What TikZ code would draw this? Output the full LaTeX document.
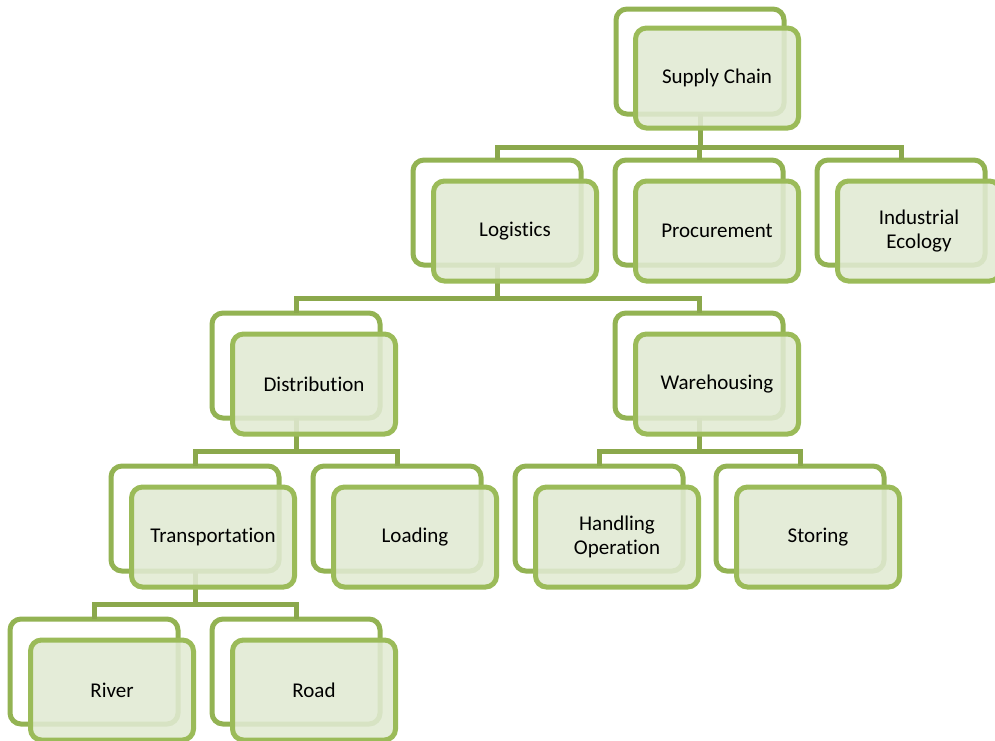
\documentclass[tikz,border=0pt]{standalone}
\usepackage{fontspec}
\setmainfont[Ligatures=NoCommon]{Carlito}
\begin{document}
\begin{tikzpicture}[x=1pt,y=-1pt,
  backframe/.style={draw=backgreen,line width=5pt,rounded corners=11pt,fill=white},
  frontbox/.style={draw=frontgreen,line width=5pt,rounded corners=11pt,fill=fillgreen,fill opacity=0.88,
    minimum width=163pt,minimum height=100pt,inner sep=0pt,align=center,text opacity=1,
    font=\fontsize{21}{24}\selectfont},
  link/.style={draw=linkgreen,line width=5pt}]
\definecolor{backgreen}{HTML}{93B353}
\definecolor{frontgreen}{HTML}{9BBB59}
\definecolor{fillgreen}{HTML}{E1EAD3}
\definecolor{linkgreen}{HTML}{8BA84C}
\useasboundingbox (0,0) rectangle (995,740);
% back frames (top-left x, y); each 168 x 105
\foreach \nm/\bx/\by in {sc/616/9, lo/413/160, pr/615/160, ie/817/160,
  di/212/313, wa/615/313, tr/111/466, ld/313/466, ho/515/466, st/716/466,
  ri/10/619, ro/212/619}{
  \draw[backframe] (\bx,\by) rectangle ++(168,105);
  \coordinate (\nm t) at (\bx+84,\by);
  \coordinate (\nm b) at (\bx+84,\by+105);
}
% connectors
\coordinate (j1) at (0,147);
\coordinate (j2) at (0,298);
\coordinate (j3) at (0,451);
\coordinate (j4) at (0,604);
\draw[link] (scb) -- (scb |- j1);
\draw[link] (lot) -- (lot |- j1) -| (iet);
\draw[link] (prt) -- (prt |- j1);
\draw[link] (lob) -- (lob |- j2);
\draw[link] (dit) |- (wat |- j2) -- (wat);
\draw[link] (dib) -- (dib |- j3);
\draw[link] (trt) |- (ldt |- j3) -- (ldt);
\draw[link] (wab) -- (wab |- j3);
\draw[link] (hot) |- (stt |- j3) -- (stt);
\draw[link] (trb) -- (trb |- j4);
\draw[link] (rit) |- (rot |- j4) -- (rot);
% front boxes
\node[frontbox] (sc) at (717,78) {Supply Chain};
\node[frontbox] (lo) at (515,231) {Logistics};
\node[frontbox] (pr) at (717,231) {Procurement};
\node[frontbox] (ie) at (919,231) {Industrial\\Ecology};
\node[frontbox] (di) at (314,384) {Distribution};
\node[frontbox] (wa) at (717,384) {Warehousing};
\node[frontbox] (tr) at (213,537) {Transportation};
\node[frontbox] (ld) at (415,537) {Loading};
\node[frontbox] (ho) at (617,537) {Handling\\Operation};
\node[frontbox] (st) at (818,537) {Storing};
\node[frontbox] (ri) at (112,690) {River};
\node[frontbox] (ro) at (314,690) {Road};
\end{tikzpicture}
\end{document}
